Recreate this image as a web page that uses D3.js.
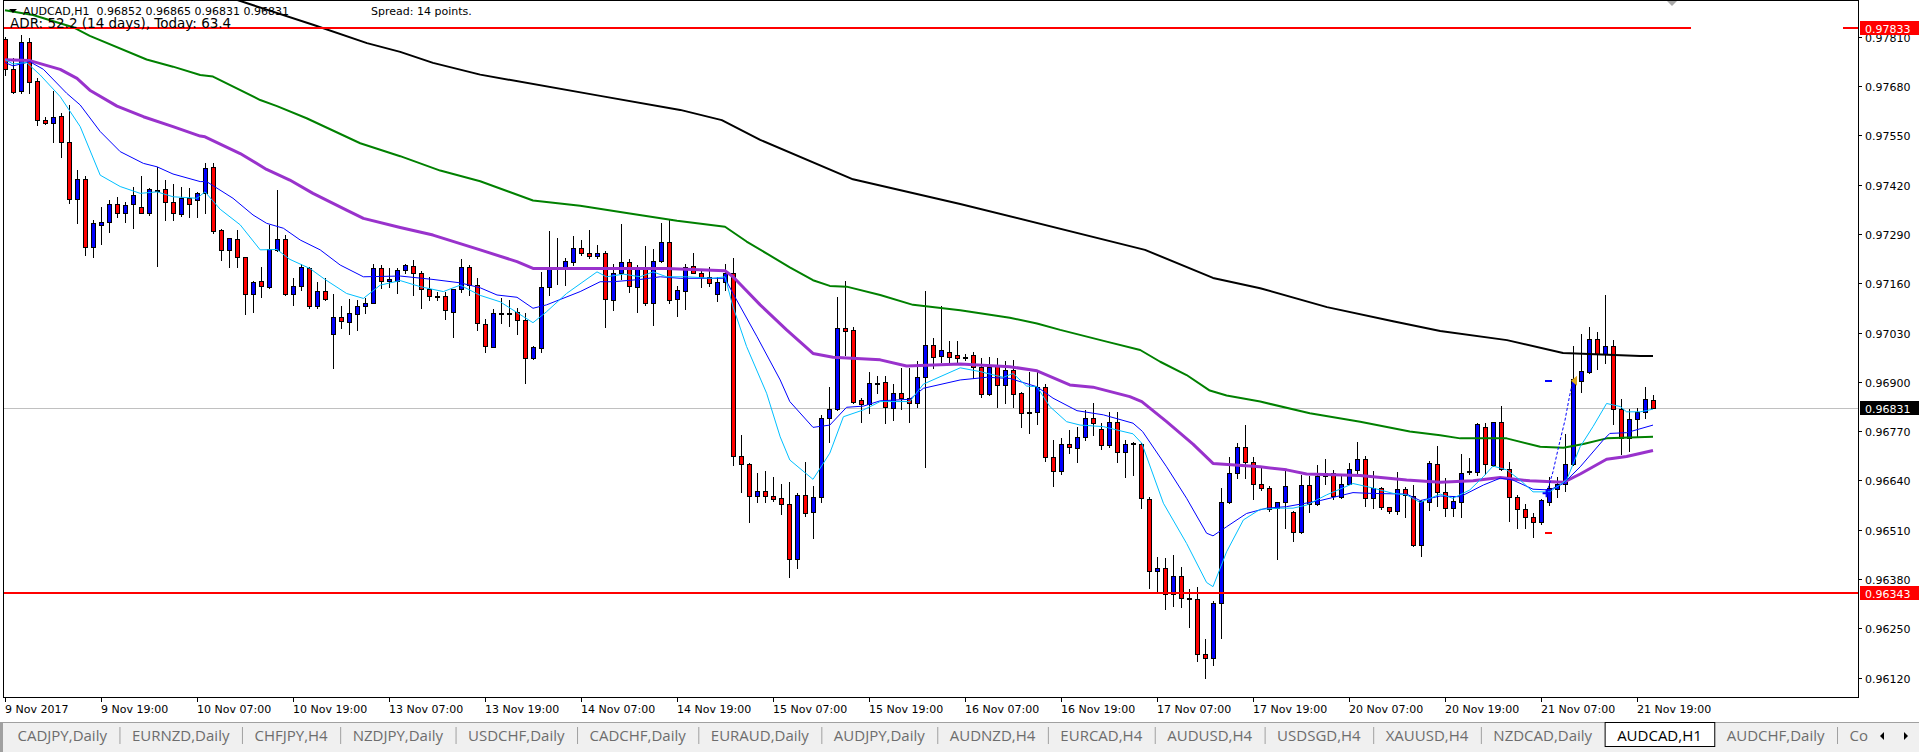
<!DOCTYPE html>
<html>
<head>
<meta charset="utf-8">
<script src="https://cdn.jsdelivr.net/npm/d3@7"></script>
<style>
html, body { margin: 0; padding: 0; background: #fff; overflow: hidden; }
svg { display: block; }
text { font-family: "DejaVu Sans", sans-serif; font-size: 11px; white-space: pre; }
</style>
</head>
<body>
<div id="chart"></div>
<script>
// AUDCAD H1 candles (bar 0 = 9 Nov 2017 07:00)
const open = [
0.97803,0.97724,0.97668,0.97797,0.97694,0.97590,0.97582,0.97601,0.97532,0.97381,
0.97434,0.97256,0.97314,0.97321,0.97369,0.97346,0.97368,0.97360,0.97346,0.97406,
0.97408,0.97375,0.97342,0.97386,0.97379,0.97399,0.97466,0.97300,0.97248,0.97276,
0.97228,0.97131,0.97166,0.97151,0.97248,0.97276,0.97131,0.97153,0.97199,0.97101,
0.97140,0.97026,0.97070,0.97057,0.97079,0.97100,0.97109,0.97199,0.97166,0.97166,
0.97195,0.97206,0.97186,0.97144,0.97127,0.97126,0.97085,0.97144,0.97202,0.97155,
0.97053,0.96993,0.97081,0.97082,0.97083,0.97063,0.96964,0.96990,0.97149,0.97200,
0.97200,0.97217,0.97252,0.97241,0.97232,0.97239,0.97116,0.97186,0.97215,0.97151,
0.97197,0.97109,0.97219,0.97268,0.97118,0.97140,0.97206,0.97188,0.97177,0.97131,
0.97162,0.97186,0.96705,0.96683,0.96599,0.96612,0.96599,0.96593,0.96578,0.96432,
0.96602,0.96556,0.96596,0.96806,0.96828,0.97041,0.97038,0.96852,0.96841,0.96896,
0.96900,0.96832,0.96870,0.96857,0.96843,0.96914,0.96997,0.96969,0.96980,0.96971,
0.96965,0.96971,0.96938,0.96868,0.96942,0.96892,0.96930,0.96870,0.96819,0.96821,
0.96887,0.96701,0.96666,0.96736,0.96725,0.96754,0.96806,0.96775,0.96733,0.96793,
0.96714,0.96737,0.96736,0.96590,0.96400,0.96408,0.96341,0.96388,0.96329,0.96328,
0.96182,0.96171,0.96316,0.96582,0.96659,0.96727,0.96688,0.96632,0.96619,0.96567,
0.96582,0.96556,0.96503,0.96628,0.96578,0.96652,0.96661,0.96597,0.96632,0.96668,
0.96696,0.96593,0.96619,0.96569,0.96560,0.96618,0.96600,0.96470,0.96584,0.96683,
0.96609,0.96567,0.96584,0.96663,0.96663,0.96780,0.96681,0.96793,0.96670,0.96596,
0.96564,0.96543,0.96531,0.96584,0.96617,0.96631,0.96683,0.96903,0.96927,0.97013,
0.96973,0.96995,0.96828,0.96751,0.96801,0.96820,0.96852];
const high = [
0.97810,0.97753,0.97814,0.97806,0.97700,0.97599,0.97667,0.97608,0.97630,0.97459,
0.97443,0.97328,0.97362,0.97379,0.97388,0.97375,0.97415,0.97443,0.97410,0.97467,
0.97432,0.97421,0.97415,0.97410,0.97401,0.97476,0.97476,0.97302,0.97280,0.97300,
0.97230,0.97166,0.97204,0.97314,0.97406,0.97287,0.97175,0.97212,0.97204,0.97164,
0.97173,0.97131,0.97100,0.97118,0.97116,0.97120,0.97210,0.97208,0.97199,0.97199,
0.97211,0.97220,0.97191,0.97177,0.97138,0.97138,0.97146,0.97223,0.97208,0.97173,
0.97067,0.97091,0.97120,0.97116,0.97094,0.97081,0.96995,0.97190,0.97298,0.97278,
0.97226,0.97284,0.97274,0.97300,0.97261,0.97245,0.97212,0.97316,0.97223,0.97208,
0.97258,0.97250,0.97318,0.97327,0.97153,0.97210,0.97241,0.97195,0.97202,0.97177,
0.97210,0.97227,0.96760,0.96685,0.96659,0.96665,0.96650,0.96632,0.96635,0.96606,
0.96688,0.96625,0.96813,0.96886,0.97123,0.97166,0.97045,0.96857,0.96927,0.96915,
0.96915,0.96894,0.96936,0.96936,0.96955,0.97140,0.97015,0.97101,0.97008,0.97008,
0.96973,0.96980,0.96962,0.96966,0.96964,0.96955,0.96958,0.96874,0.96927,0.96927,
0.96894,0.96747,0.96751,0.96773,0.96782,0.96826,0.96843,0.96791,0.96820,0.96820,
0.96747,0.96741,0.96740,0.96597,0.96439,0.96435,0.96444,0.96413,0.96353,0.96360,
0.96221,0.96323,0.96619,0.96703,0.96738,0.96785,0.96701,0.96672,0.96625,0.96584,
0.96668,0.96560,0.96654,0.96653,0.96681,0.96696,0.96668,0.96657,0.96685,0.96741,
0.96705,0.96665,0.96622,0.96571,0.96663,0.96624,0.96628,0.96589,0.96692,0.96731,
0.96646,0.96597,0.96710,0.96698,0.96792,0.96792,0.96795,0.96837,0.96690,0.96602,
0.96578,0.96553,0.96590,0.96648,0.96648,0.96763,0.96995,0.97026,0.97044,0.97031,
0.97129,0.97010,0.96855,0.96828,0.96830,0.96886,0.96865];
const low = [
0.97709,0.97662,0.97661,0.97662,0.97577,0.97580,0.97533,0.97494,0.97371,0.97318,
0.97234,0.97230,0.97263,0.97296,0.97335,0.97322,0.97305,0.97344,0.97340,0.97205,
0.97327,0.97327,0.97337,0.97334,0.97335,0.97344,0.97292,0.97221,0.97202,0.97202,
0.97078,0.97083,0.97123,0.97147,0.97246,0.97129,0.97103,0.97142,0.97094,0.97096,
0.97116,0.96936,0.97041,0.97026,0.97037,0.97081,0.97107,0.97147,0.97151,0.97135,
0.97186,0.97129,0.97096,0.97116,0.97116,0.97067,0.97017,0.97138,0.97129,0.97038,
0.96980,0.96991,0.97054,0.97047,0.97026,0.96896,0.96960,0.96980,0.97129,0.97158,
0.97155,0.97208,0.97234,0.97226,0.97226,0.97045,0.97089,0.97170,0.97138,0.97085,
0.97103,0.97050,0.97217,0.97109,0.97074,0.97091,0.97186,0.97151,0.97153,0.97114,
0.97142,0.96681,0.96610,0.96531,0.96584,0.96584,0.96587,0.96551,0.96385,0.96410,
0.96547,0.96489,0.96584,0.96742,0.96826,0.96971,0.96845,0.96795,0.96819,0.96870,
0.96792,0.96799,0.96828,0.96795,0.96835,0.96676,0.96936,0.96953,0.96949,0.96953,
0.96958,0.96909,0.96861,0.96866,0.96833,0.96843,0.96835,0.96780,0.96766,0.96789,
0.96692,0.96626,0.96657,0.96712,0.96690,0.96747,0.96760,0.96722,0.96729,0.96688,
0.96648,0.96654,0.96567,0.96356,0.96342,0.96300,0.96309,0.96306,0.96253,0.96165,
0.96118,0.96154,0.96224,0.96580,0.96646,0.96647,0.96590,0.96615,0.96560,0.96432,
0.96514,0.96480,0.96501,0.96556,0.96575,0.96632,0.96590,0.96593,0.96631,0.96661,
0.96574,0.96567,0.96565,0.96553,0.96552,0.96545,0.96466,0.96442,0.96562,0.96573,
0.96547,0.96547,0.96543,0.96657,0.96654,0.96657,0.96678,0.96668,0.96534,0.96516,
0.96516,0.96492,0.96525,0.96575,0.96597,0.96613,0.96681,0.96872,0.96924,0.96934,
0.96951,0.96788,0.96710,0.96718,0.96754,0.96804,0.96831];
const close = [
0.97724,0.97665,0.97797,0.97691,0.97590,0.97582,0.97599,0.97533,0.97381,0.97436,
0.97255,0.97318,0.97321,0.97369,0.97346,0.97365,0.97393,0.97346,0.97408,0.97404,
0.97375,0.97344,0.97384,0.97368,0.97397,0.97463,0.97299,0.97248,0.97278,0.97228,
0.97131,0.97162,0.97153,0.97249,0.97276,0.97131,0.97154,0.97202,0.97101,0.97140,
0.97118,0.97070,0.97060,0.97081,0.97100,0.97107,0.97199,0.97167,0.97171,0.97195,
0.97208,0.97186,0.97144,0.97126,0.97126,0.97089,0.97144,0.97202,0.97155,0.97054,
0.96995,0.97081,0.97082,0.97081,0.97063,0.96964,0.96991,0.97151,0.97202,0.97202,
0.97219,0.97252,0.97241,0.97232,0.97241,0.97118,0.97186,0.97215,0.97153,0.97197,
0.97109,0.97219,0.97268,0.97116,0.97142,0.97204,0.97188,0.97177,0.97160,0.97162,
0.97188,0.96705,0.96683,0.96599,0.96612,0.96599,0.96591,0.96578,0.96432,0.96602,
0.96553,0.96596,0.96806,0.96828,0.97041,0.97035,0.96848,0.96841,0.96896,0.96898,
0.96835,0.96870,0.96857,0.96845,0.96914,0.96997,0.96966,0.96984,0.96966,0.96964,
0.96966,0.96938,0.96868,0.96940,0.96892,0.96931,0.96868,0.96817,0.96821,0.96887,
0.96701,0.96666,0.96736,0.96727,0.96754,0.96806,0.96791,0.96733,0.96793,0.96714,
0.96736,0.96738,0.96593,0.96400,0.96408,0.96341,0.96388,0.96329,0.96328,0.96182,
0.96171,0.96316,0.96582,0.96661,0.96727,0.96688,0.96632,0.96619,0.96565,0.96582,
0.96625,0.96503,0.96628,0.96578,0.96652,0.96661,0.96600,0.96632,0.96669,0.96696,
0.96593,0.96619,0.96569,0.96560,0.96618,0.96602,0.96470,0.96587,0.96685,0.96609,
0.96567,0.96587,0.96661,0.96665,0.96789,0.96683,0.96793,0.96670,0.96596,0.96564,
0.96543,0.96531,0.96588,0.96619,0.96631,0.96683,0.96907,0.96929,0.97013,0.96973,
0.96995,0.96828,0.96751,0.96801,0.96820,0.96855,0.96831];

// moving averages, read as [bar, price] points
const maBlack = [[29,0.97907],[38.6,0.97841],[45.25,0.97793],[49.4,0.97770],[53.5,0.97741],[59.4,0.97710],[74.4,0.97654],[84.4,0.97617],[89.6,0.97590],[94.4,0.97538],[106,0.97434],[119.4,0.97369],[142.5,0.97248],[151,0.97174],[156.9,0.97147],[165.25,0.97097],[173.5,0.97060],[179.4,0.97034],[187.75,0.97010],[194.75,0.96976],[204.4,0.96968],[206,0.96968]];
const maGreen = [[0,0.97880],[3.5,0.97867],[8.5,0.97835],[10.6,0.97812],[17.7,0.97750],[21,0.97731],[24.4,0.97709],[26,0.97705],[31.9,0.97643],[34,0.97627],[37.7,0.97595],[44.4,0.97529],[49.4,0.97495],[54.4,0.97457],[59.4,0.97429],[66,0.97378],[71.9,0.97364],[78.1,0.97344],[84,0.97325],[90,0.97309],[92.7,0.97270],[98.1,0.97202],[101,0.97168],[103.1,0.97153],[105.2,0.97151],[109.4,0.97129],[113.5,0.97103],[119.4,0.97089],[125.6,0.97069],[129,0.97054],[131.9,0.97037],[137.7,0.97006],[141.9,0.96984],[144.4,0.96953],[147.7,0.96918],[150.6,0.96877],[152.7,0.96864],[156.9,0.96848],[163.1,0.96817],[169.4,0.96795],[175.6,0.96769],[179.4,0.96759],[181.9,0.96751],[187.7,0.96751],[191.9,0.96729],[194.8,0.96726],[197.3,0.96736],[200.2,0.96751],[206,0.96755]];
const maPurple = [[0,0.97749],[3.1,0.97747],[6.9,0.97724],[9,0.97700],[10.6,0.97669],[14,0.97627],[17.3,0.97599],[21,0.97573],[24.4,0.97548],[25,0.97546],[29.4,0.97502],[32.7,0.97460],[35.6,0.97432],[38.5,0.97397],[42.7,0.97353],[44.8,0.97331],[49.4,0.97307],[53.5,0.97287],[59.4,0.97248],[64,0.97217],[66,0.97199],[71.9,0.97199],[82.7,0.97199],[90,0.97193],[91,0.97177],[94.4,0.97103],[97.7,0.97037],[101,0.96975],[103.5,0.96965],[109.4,0.96958],[112.7,0.96942],[119.4,0.96947],[125.6,0.96940],[129,0.96929],[133.1,0.96892],[136,0.96886],[140.6,0.96861],[142.1,0.96848],[145.2,0.96795],[148.5,0.96736],[151,0.96685],[156.9,0.96676],[160.2,0.96668],[162.7,0.96657],[169.4,0.96653],[175.2,0.96641],[179.4,0.96635],[183.5,0.96639],[186.9,0.96648],[190.6,0.96639],[194.8,0.96635],[196.9,0.96657],[200.2,0.96696],[202.7,0.96703],[206,0.96719]];
const maBlue = [[0,0.97742],[1,0.97733],[3.1,0.97744],[4.8,0.97724],[7.7,0.97661],[9.4,0.97630],[11.9,0.97560],[14.4,0.97507],[17.3,0.97476],[19,0.97467],[21,0.97448],[24.4,0.97428],[25.2,0.97428],[28.5,0.97384],[31,0.97340],[32.7,0.97318],[34.8,0.97305],[36.9,0.97274],[39.4,0.97248],[41.9,0.97208],[44.8,0.97177],[49.4,0.97179],[53.5,0.97170],[56.9,0.97161],[59.4,0.97148],[61.5,0.97129],[64,0.97123],[66,0.97094],[67.7,0.97103],[71.9,0.97138],[74.4,0.97164],[76,0.97164],[79.4,0.97170],[81.9,0.97177],[84.4,0.97173],[90,0.97173],[91,0.97133],[94,0.97019],[96.9,0.96905],[98.1,0.96848],[101,0.96780],[103.1,0.96786],[105.2,0.96833],[107.3,0.96836],[109.4,0.96850],[113.1,0.96854],[114.8,0.96883],[119.4,0.96905],[122.7,0.96912],[125.6,0.96909],[129,0.96887],[131,0.96857],[134,0.96824],[137.3,0.96813],[141,0.96791],[142.2,0.96769],[145.2,0.96676],[147.7,0.96593],[150.2,0.96501],[151,0.96494],[152.7,0.96518],[155.2,0.96553],[157.7,0.96567],[160.2,0.96571],[164.4,0.96587],[168.5,0.96608],[170.6,0.96606],[175.2,0.96604],[176.9,0.96587],[179.4,0.96599],[181.9,0.96597],[184.8,0.96628],[186.9,0.96646],[188.5,0.96641],[191,0.96617],[193.1,0.96615],[194.8,0.96632],[196.9,0.96676],[199.8,0.96747],[200.6,0.96764],[202.7,0.96766],[206,0.96786]];
const maCyan = [[0,0.97750],[1,0.97738],[2.7,0.97742],[4.4,0.97709],[6.9,0.97652],[9.4,0.97573],[11.9,0.97445],[14.4,0.97415],[16.9,0.97397],[19,0.97401],[21,0.97388],[24,0.97384],[25,0.97401],[26.9,0.97355],[29.4,0.97314],[31.9,0.97248],[34,0.97249],[35.6,0.97223],[38.1,0.97199],[40,0.97170],[42.7,0.97133],[44.8,0.97120],[46.9,0.97155],[49.4,0.97167],[51.9,0.97151],[54.8,0.97138],[56.9,0.97155],[59.4,0.97128],[61.9,0.97111],[64.8,0.97072],[66,0.97056],[67.7,0.97085],[70.2,0.97133],[74,0.97190],[75.2,0.97177],[77.3,0.97184],[79.4,0.97177],[81,0.97190],[82.7,0.97177],[85.2,0.97177],[88.5,0.97173],[90,0.97177],[91,0.97098],[92.7,0.96993],[95.2,0.96870],[96.9,0.96755],[98.1,0.96694],[101,0.96643],[103.1,0.96712],[104.8,0.96808],[107.3,0.96826],[109.4,0.96848],[113.1,0.96848],[114.8,0.96894],[119.4,0.96937],[121.9,0.96927],[124.8,0.96912],[126,0.96922],[127.7,0.96889],[129,0.96887],[130.6,0.96835],[132.7,0.96795],[134.4,0.96786],[137.3,0.96782],[139,0.96773],[141,0.96763],[142.1,0.96738],[144.8,0.96580],[147.7,0.96474],[150.2,0.96371],[151,0.96360],[152.7,0.96452],[154.8,0.96536],[156.9,0.96564],[159.4,0.96567],[161,0.96567],[162.7,0.96575],[165.2,0.96602],[168.5,0.96632],[170.6,0.96622],[173.5,0.96606],[175.2,0.96602],[176.9,0.96582],[179.4,0.96604],[181,0.96593],[183.1,0.96615],[184.8,0.96650],[186,0.96678],[187.7,0.96668],[189.4,0.96641],[191,0.96610],[193.1,0.96610],[195.2,0.96641],[196.9,0.96729],[198.5,0.96782],[200.2,0.96843],[201.9,0.96835],[202.7,0.96821],[204.4,0.96821],[206,0.96828]];

// trade drawn on the chart
const tradePath = [[192.7,0.96606],[193.5,0.96663],[194.2,0.96729],[195,0.96799],[195.6,0.96866],[196,0.96903]];
const tradeBar = 193;
const tradeTP = 0.96902;
const tradeSL = 0.96501;

// horizontal levels
const levels = [0.97833, 0.96343];
const lastPrice = 0.96831;

// axes
const yTicks = [0.96120,0.96250,0.96380,0.96510,0.96640,0.96770,0.96900,0.97030,0.97160,0.97290,0.97420,0.97550,0.97680,0.97810];
const xTickBars = [0,12,24,36,48,60,72,84,96,108,120,132,144,156,168,180,192,204];
const xTickLabels = ["9 Nov 2017","9 Nov 19:00","10 Nov 07:00","10 Nov 19:00","13 Nov 07:00","13 Nov 19:00","14 Nov 07:00","14 Nov 19:00","15 Nov 07:00","15 Nov 19:00","16 Nov 07:00","16 Nov 19:00","17 Nov 07:00","17 Nov 19:00","20 Nov 07:00","20 Nov 19:00","21 Nov 07:00","21 Nov 19:00"];

const tabNames = ["CADJPY,Daily","EURNZD,Daily","CHFJPY,H4","NZDJPY,Daily","USDCHF,Daily","CADCHF,Daily","EURAUD,Daily","AUDJPY,Daily","AUDNZD,H4","EURCAD,H4","AUDUSD,H4","USDSGD,H4","XAUUSD,H4","NZDCAD,Daily","AUDCAD,H1","AUDCHF,Daily","Co"];
const activeTab = "AUDCAD,H1";

(function() {
    const width = 1919
    const height = 752
    const plot = {left: 3, top: 0, right: 1858, bottom: 697}

    const svg = d3.select("#chart")
        .append("svg")
        .attr("width", width)
        .attr("height", height)

    // price / bar scales (8 px per bar)
    const x = d3.scaleLinear().domain([0, 206]).range([5, 1653])
    const y = d3.scaleLinear().domain([0.9612, 0.9781]).range([677.7, 36.7])
    const fmt = d3.format(".5f")

    svg.append("clipPath").attr("id", "plotclip")
        .append("rect")
        .attr("x", plot.left + 1).attr("y", plot.top + 1)
        .attr("width", plot.right - plot.left - 1)
        .attr("height", plot.bottom - plot.top - 1)

    const g = svg.append("g").attr("clip-path", "url(#plotclip)")

    // last price line (behind candles)
    g.append("line")
        .attr("x1", plot.left).attr("x2", plot.right)
        .attr("y1", Math.round(y(lastPrice)) + 0.5).attr("y2", Math.round(y(lastPrice)) + 0.5)
        .attr("stroke", "#c0c0c0")

    // candles
    const candles = open.map((o, i) => ({i: i, o: o, h: high[i], l: low[i], c: close[i]}))
    const cg = g.append("g")
    cg.selectAll("line.wick")
        .data(candles)
        .join("line")
        .attr("class", "wick")
        .attr("x1", d => Math.round(x(d.i)) + 0.5)
        .attr("x2", d => Math.round(x(d.i)) + 0.5)
        .attr("y1", d => Math.round(y(d.h)))
        .attr("y2", d => Math.round(y(d.l)) + 1)
        .attr("stroke", "#000")
    cg.selectAll("rect.body")
        .data(candles)
        .join("rect")
        .attr("class", "body")
        .attr("x", d => Math.round(x(d.i)) - 1.5)
        .attr("y", d => Math.round(y(Math.max(d.o, d.c))) + 0.5)
        .attr("width", 4)
        .attr("height", d => Math.max(1, Math.round(y(Math.min(d.o, d.c))) - Math.round(y(Math.max(d.o, d.c)))))
        .attr("fill", d => d.c >= d.o ? "#0000ff" : "#ff0000")
        .attr("stroke", "#000")

    // moving averages
    const line = d3.line().x(d => x(d[0])).y(d => y(d[1]))
    const mas = [
        {data: maBlack, color: "#000000", w: 2},
        {data: maGreen, color: "#008000", w: 2},
        {data: maPurple, color: "#9932cc", w: 3},
        {data: maBlue, color: "#0000ff", w: 1},
        {data: maCyan, color: "#00bfff", w: 1}
    ]
    g.selectAll("path.ma")
        .data(mas)
        .join("path")
        .attr("class", "ma")
        .attr("d", d => line(d.data))
        .attr("fill", "none")
        .attr("stroke", d => d.color)
        .attr("stroke-width", d => d.w)
        .attr("stroke-linejoin", "round")

    // horizontal levels
    g.selectAll("line.level")
        .data(levels)
        .join("line")
        .attr("class", "level")
        .attr("x1", plot.left).attr("x2", plot.right)
        .attr("y1", d => Math.round(y(d)))
        .attr("y2", d => Math.round(y(d)))
        .attr("stroke", "#ff0000")
        .attr("stroke-width", 2)

    // trade
    g.append("path")
        .attr("d", line(tradePath))
        .attr("fill", "none")
        .attr("stroke", "#0000ff")
        .attr("stroke-dasharray", "3,2")
    const tx = Math.round(x(tradeBar))
    g.append("line")
        .attr("x1", tx - 4).attr("x2", tx + 3)
        .attr("y1", Math.round(y(tradeTP))).attr("y2", Math.round(y(tradeTP)))
        .attr("stroke", "#0000ff").attr("stroke-width", 2)
    g.append("line")
        .attr("x1", tx - 4).attr("x2", tx + 3)
        .attr("y1", Math.round(y(tradeSL))).attr("y2", Math.round(y(tradeSL)))
        .attr("stroke", "#ff0000").attr("stroke-width", 2)
    const ex = x(tradePath[0][0]), ey = y(tradePath[0][1])
    g.append("path")
        .attr("d", `M${ex - 4},${ey}H${ex + 4}M${ex},${ey - 4}V${ey + 4}`)
        .attr("stroke", "#0000ff").attr("stroke-width", 2)
    const last = tradePath[tradePath.length - 1]
    const ox = x(last[0]), oy = y(last[1])
    g.append("path")
        .attr("d", `M${ox - 2},${oy}L${ox + 4},${oy - 5}L${ox + 4},${oy + 5}Z`)
        .attr("fill", "#daa520")

    // box behind the (hidden) top-right info text
    svg.append("rect")
        .attr("x", 1691).attr("y", 10).attr("width", 152).attr("height", 24)
        .attr("fill", "#fff")

    // chart shift marker
    svg.append("path")
        .attr("d", "M1666,0L1678,0L1672,6Z")
        .attr("fill", "#a8a8a8")

    // frame
    svg.append("rect")
        .attr("x", plot.left + 0.5).attr("y", plot.top + 0.5)
        .attr("width", plot.right - plot.left).attr("height", plot.bottom - plot.top)
        .attr("fill", "none").attr("stroke", "#000")

    // header texts
    svg.append("path").attr("d", "M9,9L17,9L13,13Z").attr("fill", "#000")
    svg.append("text").attr("x", 23).attr("y", 14.5)
        .text("AUDCAD,H1  " + [open[206], high[206], low[206], close[206]].map(fmt).join(" "))
    svg.append("text").attr("x", 371).attr("y", 14.5).text("Spread: 14 points.")
    svg.append("text").attr("x", 10).attr("y", 27.5)
        .style("font-size", "13.5px")
        .text("ADR: 52.2 (14 days), Today: 63.4")

    // price axis
    const ya = svg.append("g")
    ya.selectAll("line")
        .data(yTicks)
        .join("line")
        .attr("x1", plot.right).attr("x2", plot.right + 4)
        .attr("y1", d => Math.round(y(d)) + 0.5).attr("y2", d => Math.round(y(d)) + 0.5)
        .attr("stroke", "#000")
    ya.selectAll("text")
        .data(yTicks)
        .join("text")
        .attr("x", 1865)
        .attr("y", d => Math.round(y(d)) + 4.5)
        .text(fmt)

    // price labels on the axis
    const tags = [
        {v: levels[0], bg: "#ff0000"},
        {v: lastPrice, bg: "#000000"},
        {v: levels[1], bg: "#ff0000"}
    ]
    const tg = svg.append("g").selectAll("g").data(tags).join("g")
    tg.append("rect")
        .attr("x", 1860).attr("y", d => Math.round(y(d.v)) - 7)
        .attr("width", 59).attr("height", 14)
        .attr("fill", d => d.bg)
    tg.append("text")
        .attr("x", 1865).attr("y", d => Math.round(y(d.v)) + 4.5)
        .attr("fill", "#fff")
        .text(d => fmt(d.v))

    // time axis
    const xa = svg.append("g")
    xa.selectAll("line")
        .data(xTickBars)
        .join("line")
        .attr("x1", d => Math.round(x(d)) + 0.5).attr("x2", d => Math.round(x(d)) + 0.5)
        .attr("y1", plot.bottom).attr("y2", plot.bottom + 5)
        .attr("stroke", "#000")
    xa.selectAll("text")
        .data(xTickBars)
        .join("text")
        .attr("x", d => Math.round(x(d)))
        .attr("y", 713)
        .text((d, i) => xTickLabels[i])

    // tab strip
    const tabs = svg.append("g")
    tabs.append("rect").attr("x", 0).attr("y", 722).attr("width", width).attr("height", 30).attr("fill", "#f0f0f0")
    tabs.append("line").attr("x1", 0).attr("x2", width).attr("y1", 722.5).attr("y2", 722.5).attr("stroke", "#a0a0a0")
    tabs.append("rect").attr("x", 0).attr("y", 722).attr("width", 3).attr("height", 30).attr("fill", "#a0a0a0")

    let tx0 = 5
    const pad = 25
    tabNames.forEach(function(name, i) {
        const t = tabs.append("text")
            .attr("y", 741)
            .style("font-family", "'Open Sans', sans-serif")
            .style("font-size", "15px")
            .attr("fill", name === activeTab ? "#000" : "#6d6d6d")
            .attr("text-anchor", "middle")
            .text(name)
        const w = t.node().getComputedTextLength() + pad
        t.attr("x", tx0 + w / 2)
        if (name === activeTab) {
            tabs.insert("rect", "text:last-of-type")
                .attr("x", tx0 + 0.5).attr("y", 722.5).attr("width", w).attr("height", 24)
                .attr("fill", "#fff").attr("stroke", "#000")
        } else if (i > 0 && tabNames[i - 1] !== activeTab) {
            tabs.append("line")
                .attr("x1", tx0 + 0.5).attr("x2", tx0 + 0.5).attr("y1", 727).attr("y2", 744)
                .attr("stroke", "#a0a0a0")
        }
        tx0 += w
    })
    // cover the clipped last tab and draw the scroll arrows
    tabs.append("rect").attr("x", 1872).attr("y", 723).attr("width", 47).attr("height", 29).attr("fill", "#f0f0f0")
    tabs.append("path").attr("d", "M1880,736L1884,732L1884,740Z").attr("fill", "#000")
    tabs.append("path").attr("d", "M1904,732L1908,736L1904,740Z").attr("fill", "#000")
})();
</script>
</body>
</html>
